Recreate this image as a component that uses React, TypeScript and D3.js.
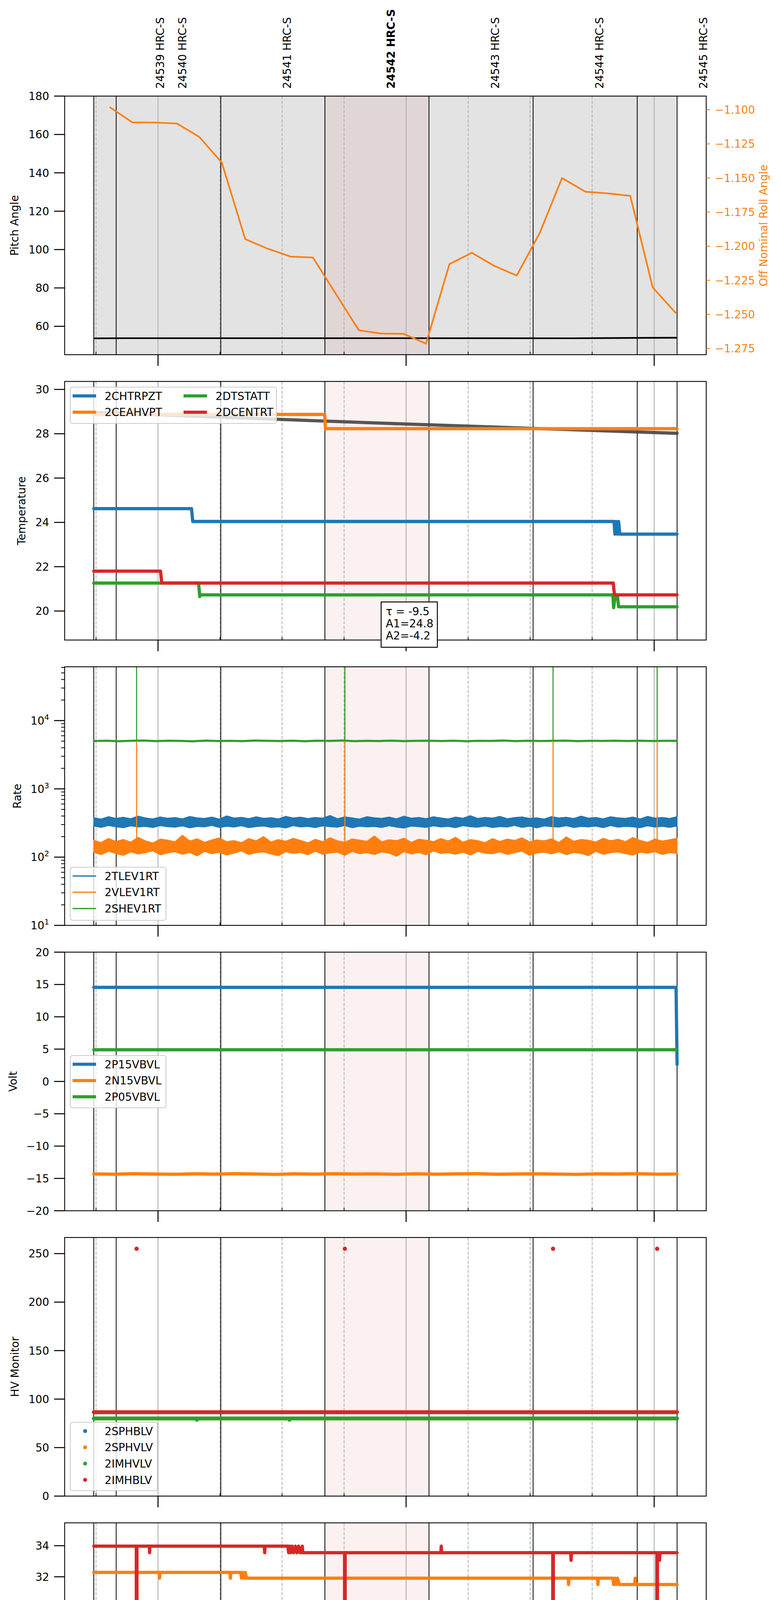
import * as d3 from "d3";

// times are minutes after 2021-04-04 16:00 UT
const T0 = Date.UTC(2021, 3, 4, 16, 0, 0);
const toDate = (m: number) => new Date(T0 + m * 60000);

const C = ["#1f77b4", "#ff7f0e", "#2ca02c", "#d62728"];
const FONT = "DejaVu Sans";

const dataStart = -15.54;
const dataEnd = 125.54;
const obsids = ["24539", "24540", "24541", "24542", "24543", "24544", "24545"];
const obsidStart = [-15.54, -10.12, 15.18, 40.36, 65.54, 90.72, 115.9];
const targetObsid = "24542";
const spikeTimes = [-5.18, 45.19, 95.54, 120.72];
const LOW = -100;

// panel 1
const pitch = [[-15.54, 53.7], [-8, 53.8], [60, 53.8], [100, 53.75], [118, 54.0], [125.54, 54.05]];
const roll = [
  [-11.68, -1.0981], [-6.26, -1.1092], [-0.84, -1.1094], [4.58, -1.1101], [10.0, -1.12],
  [15.42, -1.1387], [21.09, -1.1948], [26.51, -1.2018], [32.05, -1.2076], [37.47, -1.2083],
  [43.02, -1.235], [48.56, -1.2616], [53.98, -1.264], [59.4, -1.2642], [64.82, -1.2714],
  [70.48, -1.2131], [75.9, -1.2048], [81.32, -1.2144], [86.75, -1.2215], [92.29, -1.1905],
  [97.71, -1.15], [103.37, -1.1601], [108.79, -1.1613], [114.21, -1.1631], [119.64, -1.2302],
  [125.3, -1.2492],
];
const rollTicks = [-1.1, -1.125, -1.15, -1.175, -1.2, -1.225, -1.25, -1.275];

// panel 2
const chtrpzt = [[-15.54, 24.62], [8.1, 24.62], [8.4, 24.04], [110.3, 24.04], [110.5, 23.47], [110.8, 24.04], [111.1, 23.47], [111.4, 24.04], [111.7, 23.47], [125.54, 23.47]];
const ceahvpt = [[-15.54, 28.87], [40.3, 28.87], [40.5, 28.23], [125.54, 28.23]];
const dtstatt = [[-15.54, 21.26], [9.8, 21.26], [10.1, 20.65], [10.3, 20.73], [110.0, 20.73], [110.2, 20.15], [110.6, 20.73], [111.1, 20.73], [111.4, 20.19], [125.54, 20.19]];
const dcentrt = [[-15.54, 21.8], [0.6, 21.8], [0.9, 21.26], [110.1, 21.26], [110.4, 20.73], [125.54, 20.73]];
const tempFit = [[-15.54, 28.96], [55, 28.47], [125.54, 28.02]];
const fitText = ["τ = -9.5", "A1=24.8", "A2=-4.2"];

// panel 3, noisy rates read as band edges at even steps over the data span
const tlevHi = [378, 362, 391, 370, 384, 366, 399, 375, 363, 388, 372, 380, 365, 394, 377, 369, 386, 361, 402, 374, 383, 367, 390, 371, 379, 364, 396, 376, 385, 368, 381, 373, 407, 366, 389, 375, 362, 392, 378, 370, 386, 365, 398, 373, 381, 367, 391, 376, 363, 387, 372, 404, 369, 383, 374, 395, 366, 380, 388, 371, 377, 362, 393, 375, 384, 368, 399, 373, 381, 365, 390, 377, 370, 386, 363, 396, 374, 382, 369, 392];
const tlevLo = [284, 273, 290, 278, 269, 287, 276, 282, 271, 289, 279, 274, 286, 268, 281, 277, 291, 272, 283, 275, 288, 270, 280, 285, 273, 278, 267, 289, 276, 282, 271, 286, 279, 274, 290, 269, 283, 277, 281, 272, 288, 275, 266, 284, 279, 273, 287, 276, 282, 270, 289, 278, 274, 285, 271, 280, 276, 291, 273, 283, 268, 286, 279, 275, 288, 272, 281, 277, 284, 270, 290, 274, 282, 278, 269, 287, 275, 283, 273, 286];
const vlevHi = [176, 164, 188, 170, 182, 166, 195, 173, 161, 184, 178, 168, 210, 172, 186, 165, 179, 191, 169, 175, 163, 187, 174, 200, 167, 181, 171, 189, 176, 162, 183, 169, 193, 174, 166, 185, 178, 171, 205, 168, 180, 174, 190, 165, 183, 177, 169, 188, 172, 196, 166, 181, 175, 163, 187, 170, 184, 176, 192, 168, 179, 173, 186, 164, 198, 171, 182, 177, 167, 189, 174, 183, 169, 194, 176, 165, 185, 172, 180, 190];
const vlevLo = [118, 109, 122, 113, 106, 119, 111, 116, 124, 108, 115, 120, 110, 117, 104, 121, 112, 118, 107, 114, 123, 109, 116, 119, 111, 105, 120, 113, 117, 108, 122, 110, 115, 118, 106, 121, 112, 116, 109, 119, 114, 103, 120, 111, 117, 108, 123, 113, 116, 110, 118, 107, 121, 114, 112, 119, 109, 116, 122, 106, 115, 118, 111, 120, 108, 117, 113, 105, 121, 110, 116, 119, 112, 107, 118, 114, 120, 109, 116, 113];
const shev = [5020, 5080, 4990, 5060, 5100, 5010, 5070, 5040, 4980, 5090, 5030, 5060, 5000, 5110, 5050, 5020, 5080, 4990, 5070, 5040, 5100, 5010, 5060, 5030, 5090, 5000, 5050, 5080, 5020, 5070, 4990, 5060, 5040, 5100, 5010, 5080, 5030, 5050, 5090, 5000, 5060, 5040, 5080, 5020, 5070, 5030, 5050, 5060];
const vlevSpikeTop = 5000;

// panel 4
const p15 = [[-15.54, 14.56], [125.3, 14.56], [125.54, 2.64]];
const n15 = [-14.3, -14.34, -14.27, -14.32, -14.36, -14.28, -14.33, -14.26, -14.31, -14.37, -14.29, -14.33, -14.27, -14.32, -14.3, -14.36, -14.28, -14.34, -14.3, -14.26, -14.35, -14.31, -14.28, -14.33, -14.37, -14.29, -14.32, -14.27, -14.34, -14.31];
const p05 = [[-15.54, 4.9], [125.54, 4.9]];

// panel 5
const imhvlv = 80.0;
const imhvlvDips = [[9.4, 78.6], [31.8, 78.6]];
const imhblv = 86.5;
const imhblvHigh = 255;

// panel 6
const spinatm = [[-15.54, 20.99], [34.6, 20.99], [34.7, 20.3], [34.8, 20.99], [38.9, 20.99], [39.0, 20.3], [39.3, 20.99], [39.6, 20.3], [40.0, 20.99], [40.4, 20.3], [40.8, 20.99], [41.2, 20.3], [41.6, 20.99], [42.0, 20.3], [42.8, 20.3], [42.9, 20.99], [43.1, 20.3], [125.54, 20.3]];
const sphvatm = [[-15.54, 32.28], [0.3, 32.28], [0.37, 31.91], [0.45, 32.28], [17.4, 32.28], [17.5, 31.91], [17.6, 32.28], [20.0, 32.28], [20.2, 31.91], [20.5, 32.28], [20.8, 31.91], [21.1, 32.28], [21.4, 31.91], [99.2, 31.91], [99.3, 31.5], [99.4, 31.91], [106.3, 31.91], [106.4, 31.5], [106.5, 31.91], [110.0, 31.91], [110.2, 31.5], [110.5, 31.91], [110.8, 31.5], [111.1, 31.91], [111.6, 31.5], [115.3, 31.5], [115.4, 31.91], [115.5, 31.5], [125.54, 31.5]];
const iminatm = [[-15.54, 21.69], [3.7, 21.69], [3.8, 20.99], [4.1, 21.69], [4.4, 20.99], [4.7, 21.69], [5.0, 20.99], [5.3, 21.69], [5.6, 20.99], [6.0, 20.99], [6.5, 20.99], [6.6, 21.69], [6.7, 20.99], [125.54, 20.99]];
const imhvatm = [[-15.54, 33.97], [-5.25, 33.97], [-5.18, LOW], [-5.1, 33.97], [-2.1, 33.97], [-2.04, 33.55], [-1.98, 33.97], [25.7, 33.97], [25.8, 33.55], [25.9, 33.97], [31.4, 33.97], [31.6, 33.55], [31.8, 33.97], [32.1, 33.55], [32.4, 33.97], [32.8, 33.55], [33.2, 33.97], [33.6, 33.55], [34.0, 33.97], [34.4, 33.55], [34.9, 33.97], [35.0, 33.55], [45.12, 33.55], [45.19, LOW], [45.26, 33.55], [68.4, 33.55], [68.5, 33.97], [68.6, 33.55], [95.47, 33.55], [95.54, LOW], [95.61, 33.55], [99.8, 33.55], [99.9, 33.06], [100.0, 33.55], [120.65, 33.55], [120.72, LOW], [120.79, 33.55], [121.2, 33.55], [121.3, 33.06], [121.4, 33.55], [125.54, 33.55]];

// panel 7
const fhtrmzt = [[-15.54, 22.36], [9.8, 22.36], [10.0, 21.81], [10.2, 22.36], [10.4, 21.81], [10.6, 22.36], [10.8, 21.81], [11.1, 21.81], [114.7, 21.81], [114.9, 21.27], [125.54, 21.27]];
const fradpyt = [[-15.54, 16.65], [65.0, 16.65], [65.2, 16.19], [125.54, 16.19]];
const fepratm = [[-15.54, 23.88], [-5.25, 23.88], [-5.18, LOW], [-5.1, 23.88], [45.12, 23.88], [45.19, LOW], [45.26, 23.88], [84.5, 23.88], [84.7, 23.14], [85.0, 23.88], [85.3, 23.14], [85.6, 23.88], [85.9, 23.14], [86.2, 23.88], [86.5, 23.14], [86.8, 23.88], [87.1, 23.14], [87.4, 23.88], [87.7, 23.14], [95.47, 23.14], [95.54, LOW], [95.61, 23.14], [99.8, 23.14], [99.9, 23.88], [100.0, 23.14], [120.65, 23.14], [120.72, LOW], [120.79, 23.14], [125.54, 23.14]];
const fe00atm = [[-15.54, 22.02], [-14.5, 22.02], [-14.4, 23.32], [-14.3, 22.02], [-14.2, 22.36], [-14.0, 22.02], [-13.8, 22.36], [-13.6, 22.02], [-10.7, 22.02], [-10.5, 22.36], [-10.3, 22.02], [-10.0, 22.36], [-9.8, 22.02], [-5.25, 22.02], [-5.18, LOW], [-5.1, 22.02], [7.7, 22.02], [7.75, 21.36], [7.8, 22.02], [8.55, 22.02], [8.6, 22.37], [8.65, 22.02], [9.1, 22.02], [9.13, 21.67], [9.2, 22.02], [27.45, 22.02], [27.5, 21.67], [27.55, 22.02], [28.85, 22.02], [28.9, 21.67], [28.95, 22.02], [45.12, 22.02], [45.19, LOW], [45.26, 22.02], [49.4, 22.02], [49.7, 21.7], [50.0, 22.02], [50.3, 21.7], [50.6, 22.02], [50.9, 21.7], [51.2, 22.02], [51.5, 21.7], [51.8, 22.02], [52.3, 21.7], [56.25, 21.7], [56.3, 22.37], [56.35, 21.7], [69.65, 21.7], [69.7, 22.05], [69.75, 21.7], [82.15, 21.7], [82.2, 22.05], [82.25, 21.7], [83.45, 21.7], [83.5, 22.05], [83.55, 21.7], [84.3, 21.7], [84.35, 22.69], [84.4, 21.7], [87.5, 21.7], [87.56, 21.06], [87.62, 21.7], [90.35, 21.7], [90.4, 22.69], [90.45, 21.7], [95.47, 21.7], [95.54, LOW], [95.61, 21.7], [104.15, 21.7], [104.2, 21.37], [104.25, 21.7], [106.85, 21.7], [106.9, 22.05], [106.95, 21.7], [111.85, 21.7], [111.9, 21.37], [111.95, 21.7], [120.65, 21.7], [120.72, LOW], [120.79, 21.7], [121.85, 21.7], [121.9, 20.75], [121.95, 21.7], [125.54, 21.7]];

// layout
const LEFT = 165.5;
const RIGHT = 1808.5;
const TOP0 = 246;
const STEP = 730.5;
const PH = 662;
const FS = 27.8;

const x = d3.scaleTime().domain([toDate(-22.59), toDate(132.59)]).range([LEFT, RIGHT]);
const X = (t: number) => x(toDate(t));
const hours = d3.utcHour.range(x.domain()[0], x.domain()[1]);
const quarters = d3.utcMinute.every(15)!.range(x.domain()[0], x.domain()[1]).filter((d) => d.getUTCMinutes() !== 0);

const panelTop = (i: number) => TOP0 + i * STEP;
const lin = (i: number, dom: number[]) => d3.scaleLinear().domain(dom).range([panelTop(i) + PH, panelTop(i)]);

function path(data: number[][], y: any) {
  return d3.line<number[]>().x((d) => X(d[0])).y((d) => y(d[1]))(data) || "";
}

function evenTimes(n: number) {
  return d3.range(n).map((k) => dataStart + (k * (dataEnd - dataStart)) / (n - 1));
}

function Legend({ x0, y0, w, h, items, colX = [0], rowsPerCol = 9, dots = false, lw = 8 }: any) {
  return (
    <g fontFamily={FONT} fontSize={FS}>
      <rect x={x0} y={y0} width={w} height={h} rx={6} fill="white" fillOpacity={0.8} stroke="#cccccc" strokeWidth={2.2} />
      {items.map((it: any, k: number) => {
        const col = Math.floor(k / rowsPerCol);
        const row = k % rowsPerCol;
        const cx = x0 + colX[col];
        const cy = y0 + 22.6 + row * 41.6;
        return (
          <g key={k}>
            {dots ? (
              <circle cx={cx + 38} cy={cy} r={5} fill={it.color} />
            ) : (
              <line x1={cx + 6} x2={cx + 66} y1={cy} y2={cy} stroke={it.color} strokeWidth={lw} />
            )}
            <text x={cx + 88} y={cy + 10.1}>{it.label}</text>
          </g>
        );
      })}
    </g>
  );
}

function Frame({ i, y, ticks, minorTicks = [], fmt, label, labelX, shade = false, last = false, children }: any) {
  const top = panelTop(i);
  const bottom = top + PH;
  const k = obsids.indexOf(targetObsid);
  return (
    <g>
      <defs>
        <clipPath id={`clip${i}`}>
          <rect x={LEFT} y={top} width={RIGHT - LEFT} height={PH} />
        </clipPath>
      </defs>
      {shade && <rect x={X(dataStart)} y={top} width={X(dataEnd) - X(dataStart)} height={PH} fill="#e3e3e3" />}
      <rect x={X(obsidStart[k])} y={top} width={X(obsidStart[k + 1]) - X(obsidStart[k])} height={PH} fill="rgb(214,39,40)" fillOpacity={0.065} />
      {hours.map((d, j) => (
        <line key={"h" + j} x1={x(d)} x2={x(d)} y1={top} y2={bottom} stroke="#b0b0b0" strokeWidth={2.2} />
      ))}
      {quarters.map((d, j) => (
        <line key={"q" + j} x1={x(d)} x2={x(d)} y1={top} y2={bottom} stroke="#b0b0b0" strokeWidth={2} strokeDasharray="8.2 3.6" />
      ))}
      {[...obsidStart, dataEnd].map((t, j) => (
        <line key={"o" + j} x1={X(t)} x2={X(t)} y1={top} y2={bottom} stroke="black" strokeWidth={2} />
      ))}
      <g clipPath={`url(#clip${i})`}>{children}</g>
      <rect x={LEFT} y={top} width={RIGHT - LEFT} height={PH} fill="none" stroke="black" strokeWidth={2.2} />
      {ticks.map((v: number, j: number) => (
        <g key={"t" + j}>
          <line x1={LEFT - 27} x2={LEFT} y1={y(v)} y2={y(v)} stroke="black" strokeWidth={2.6} />
          <text x={LEFT - 39.5} y={y(v) + 10.1} textAnchor="end" fontFamily={FONT} fontSize={FS}>
            {fmt(v)}
          </text>
        </g>
      ))}
      {minorTicks.map((v: number, j: number) => (
        <line key={"m" + j} x1={LEFT - 9} x2={LEFT} y1={y(v)} y2={y(v)} stroke="black" strokeWidth={2} />
      ))}
      {hours.map((d, j) => (
        <line key={"bh" + j} x1={x(d)} x2={x(d)} y1={bottom} y2={bottom + 28.7} stroke="black" strokeWidth={2.6} />
      ))}
      {quarters.map((d, j) => (
        <line key={"bq" + j} x1={x(d)} x2={x(d)} y1={bottom} y2={bottom - 7} stroke="black" strokeWidth={2} />
      ))}
      <text
        transform={`translate(${labelX + 10},${top + PH / 2}) rotate(-90)`}
        textAnchor="middle"
        fontFamily={FONT}
        fontSize={FS}
      >
        {label}
      </text>
      {last && (
        <g fontFamily={FONT} textAnchor="middle">
          {quarters.map((d, j) => (
            <text key={"lq" + j} x={x(d)} y={bottom + 21.7} fontSize={19.4}>
              {d3.utcFormat("%M")(d)}
            </text>
          ))}
          {hours.map((d, j) => (
            <text key={"lh" + j} x={x(d)} y={bottom + 59} fontSize={FS}>
              {d.getUTCHours() + "h"}
            </text>
          ))}
          <text x={(LEFT + RIGHT) / 2} y={bottom + 98} fontSize={33.3}>
            2021-04-04 (094)
          </text>
        </g>
      )}
    </g>
  );
}

const minus = (s: string) => s.replace("-", "\u2212");

export default function App() {
  // panel scales
  const y1 = lin(0, [45.2, 180]);
  const y1r = d3.scaleLinear().domain([-1.2795, -1.09]).range([panelTop(0) + PH, panelTop(0)]);
  const y2 = lin(1, [18.69, 30.36]);
  const y3 = d3.scaleLog().domain([10, 61400]).range([panelTop(2) + PH, panelTop(2)]);
  const y4 = lin(3, [-20, 20]);
  const y5 = lin(4, [0, 266.6]);
  const y6 = lin(5, [18.83, 35.47]);
  const y7 = lin(6, [14.65, 25.38]);

  const bt = evenTimes(tlevHi.length);
  const band = (hi: number[], lo: number[]) =>
    d3.area<number>().x((_, k) => X(bt[k])).y0((_, k) => y3(lo[k])).y1((d) => y3(d))(hi) || "";
  const gt = evenTimes(shev.length);
  const rateLine = (vals: number[]) => d3.line<number>().x((_, k) => X(gt[k])).y((d) => y3(d))(vals) || "";
  const nt = evenTimes(n15.length);
  const n15Path = d3.line<number>().x((_, k) => X(nt[k])).y((d) => y4(d))(n15) || "";

  const logMajor = [10, 100, 1000, 10000];
  const logMinor = y3.ticks().filter((v) => !logMajor.includes(v));
  const expo: Record<number, string> = { 10: "1", 100: "2", 1000: "3", 10000: "4" };

  const thick = { fill: "none", strokeWidth: 8.3, strokeLinejoin: "round" as const, strokeLinecap: "round" as const };

  return (
    <svg width={2000} height={5400} style={{ position: "absolute", left: 0, top: 0, background: "white" }}>
      <rect width={2000} height={5400} fill="white" />

      {/* obsid labels */}
      {obsids.map((o, k) => (
        <text
          key={o}
          transform={`translate(${X(obsidStart[k] + 16) + 10.1},227) rotate(-90)`}
          fontFamily={FONT}
          fontSize={FS}
          fontWeight={o === targetObsid ? "bold" : "normal"}
        >
          {o} HRC-S
        </text>
      ))}

      {/* 1: pitch / roll */}
      <Frame i={0} y={y1} ticks={d3.range(60, 181, 20)} fmt={(v: number) => String(v)} label="Pitch Angle" labelX={37} shade>
        <path d={path(pitch, y1)} fill="none" stroke="black" strokeWidth={4.2} />
        <path d={path(roll, y1r)} fill="none" stroke={C[1]} strokeWidth={4.2} strokeLinejoin="round" />
      </Frame>
      {rollTicks.map((v) => (
        <g key={v}>
          <line x1={RIGHT} x2={RIGHT + 9.7} y1={y1r(v)} y2={y1r(v)} stroke={C[1]} strokeWidth={2.2} />
          <text x={RIGHT + 22} y={y1r(v) + 10.1} fill={C[1]} fontFamily={FONT} fontSize={FS}>
            {minus(v.toFixed(3))}
          </text>
        </g>
      ))}
      <text transform={`translate(${1965},${panelTop(0) + PH / 2}) rotate(-90)`} textAnchor="middle" fill={C[1]} fontFamily={FONT} fontSize={FS}>
        Off Nominal Roll Angle
      </text>

      {/* 2: temperature */}
      <Frame i={1} y={y2} ticks={d3.range(20, 31, 2)} fmt={(v: number) => String(v)} label="Temperature" labelX={55}>
        <path d={path(tempFit, y2)} stroke="#444444" strokeOpacity={0.9} {...thick} />
        <path d={path(chtrpzt, y2)} stroke={C[0]} {...thick} />
        <path d={path(ceahvpt, y2)} stroke={C[1]} {...thick} />
        <path d={path(dtstatt, y2)} stroke={C[2]} {...thick} />
        <path d={path(dcentrt, y2)} stroke={C[3]} {...thick} />
      </Frame>
      <Legend
        x0={180}
        y0={991}
        w={528}
        h={93}
        rowsPerCol={2}
        colX={[0, 284]}
        items={[
          { label: "2CHTRPZT", color: C[0] },
          { label: "2CEAHVPT", color: C[1] },
          { label: "2DTSTATT", color: C[2] },
          { label: "2DCENTRT", color: C[3] },
        ]}
      />
      <rect x={976} y={1541} width={144} height={116} fill="white" stroke="black" strokeWidth={2.4} />
      {fitText.map((s, k) => (
        <text key={s} x={988} y={1574.7 + k * 31.1} fontFamily={FONT} fontSize={FS}>
          {s}
        </text>
      ))}

      {/* 3: rates */}
      <Frame
        i={2}
        y={y3}
        ticks={logMajor}
        minorTicks={logMinor}
        fmt={(v: number) => (
          <>
            10<tspan dy={-12} fontSize={19.5}>{expo[v]}</tspan>
          </>
        )}
        label="Rate"
        labelX={44}
      >
        <path d={band(tlevHi, tlevLo)} fill={C[0]} stroke={C[0]} strokeWidth={2.2} strokeLinejoin="miter" />
        <path d={band(vlevHi, vlevLo)} fill={C[1]} stroke={C[1]} strokeWidth={2.2} strokeLinejoin="miter" />
        <path d={rateLine(shev)} fill="none" stroke={C[2]} strokeWidth={5.5} />
        {spikeTimes.map((t) => (
          <g key={t}>
            <line x1={X(t)} x2={X(t)} y1={y3(150)} y2={y3(vlevSpikeTop)} stroke={C[1]} strokeWidth={2.8} />
            <line x1={X(t)} x2={X(t)} y1={y3(5050)} y2={panelTop(2) - 5} stroke={C[2]} strokeWidth={2.8} />
          </g>
        ))}
      </Frame>
      <Legend
        x0={180}
        y0={2220}
        w={245}
        h={136}
        lw={3.3}
        items={[
          { label: "2TLEV1RT", color: C[0] },
          { label: "2VLEV1RT", color: C[1] },
          { label: "2SHEV1RT", color: C[2] },
        ]}
      />

      {/* 4: volts */}
      <Frame i={3} y={y4} ticks={d3.range(-20, 21, 5)} fmt={(v: number) => minus(String(v))} label="Volt" labelX={33}>
        <path d={path(p15, y4)} stroke={C[0]} {...thick} />
        <path d={n15Path} stroke={C[1]} {...thick} />
        <path d={path(p05, y4)} stroke={C[2]} {...thick} />
      </Frame>
      <Legend
        x0={180}
        y0={2702}
        w={245}
        h={134}
        items={[
          { label: "2P15VBVL", color: C[0] },
          { label: "2N15VBVL", color: C[1] },
          { label: "2P05VBVL", color: C[2] },
        ]}
      />

      {/* 5: HV monitor */}
      <Frame i={4} y={y5} ticks={d3.range(0, 251, 50)} fmt={(v: number) => String(v)} label="HV Monitor" labelX={38}>
        <line x1={X(dataStart)} x2={X(dataEnd)} y1={y5(imhvlv)} y2={y5(imhvlv)} stroke={C[2]} strokeWidth={10} strokeLinecap="round" />
        {imhvlvDips.map((d) => (
          <circle key={d[0]} cx={X(d[0])} cy={y5(d[1])} r={5} fill={C[2]} />
        ))}
        <line x1={X(dataStart)} x2={X(dataEnd)} y1={y5(imhblv)} y2={y5(imhblv)} stroke={C[3]} strokeWidth={10} strokeLinecap="round" />
        {spikeTimes.map((t) => (
          <circle key={t} cx={X(t)} cy={y5(imhblvHigh)} r={5.5} fill={C[3]} />
        ))}
      </Frame>
      <Legend
        x0={180}
        y0={3641}
        w={223}
        h={175}
        dots
        items={[
          { label: "2SPHBLV", color: C[0] },
          { label: "2SPHVLV", color: C[1] },
          { label: "2IMHVLV", color: C[2] },
          { label: "2IMHBLV", color: C[3] },
        ]}
      />

      {/* 6: detector temps */}
      <Frame i={5} y={y6} ticks={d3.range(20, 35, 2)} fmt={(v: number) => String(v)} label="Detector Temp" labelX={54}>
        <path d={path(spinatm, y6)} stroke={C[0]} {...thick} />
        <path d={path(sphvatm, y6)} stroke={C[1]} {...thick} />
        <path d={path(iminatm, y6)} stroke={C[2]} {...thick} />
        <path d={path(imhvatm, y6)} stroke={C[3]} {...thick} />
      </Frame>
      <Legend
        x0={1547}
        y0={4143}
        w={248}
        h={174}
        items={[
          { label: "2SPINATM", color: C[0] },
          { label: "2SPHVATM", color: C[1] },
          { label: "2IMINATM", color: C[2] },
          { label: "2IMHVATM", color: C[3] },
        ]}
      />

      {/* 7: FEA temps */}
      <Frame i={6} y={y7} ticks={d3.range(16, 25, 2)} fmt={(v: number) => String(v)} label="FEA Temp" labelX={55} last>
        <path d={path(fhtrmzt, y7)} stroke={C[0]} {...thick} />
        <path d={path(fradpyt, y7)} stroke={C[1]} {...thick} />
        <path d={path(fepratm, y7)} stroke={C[2]} {...thick} />
        <path d={path(fe00atm, y7)} stroke={C[3]} {...thick} />
      </Frame>
      <Legend
        x0={180}
        y0={4873}
        w={251}
        h={175}
        items={[
          { label: "2FHTRMZT", color: C[0] },
          { label: "2FRADPYT", color: C[1] },
          { label: "2FEPRATM", color: C[2] },
          { label: "2FE00ATM", color: C[3] },
        ]}
      />
    </svg>
  );
}
